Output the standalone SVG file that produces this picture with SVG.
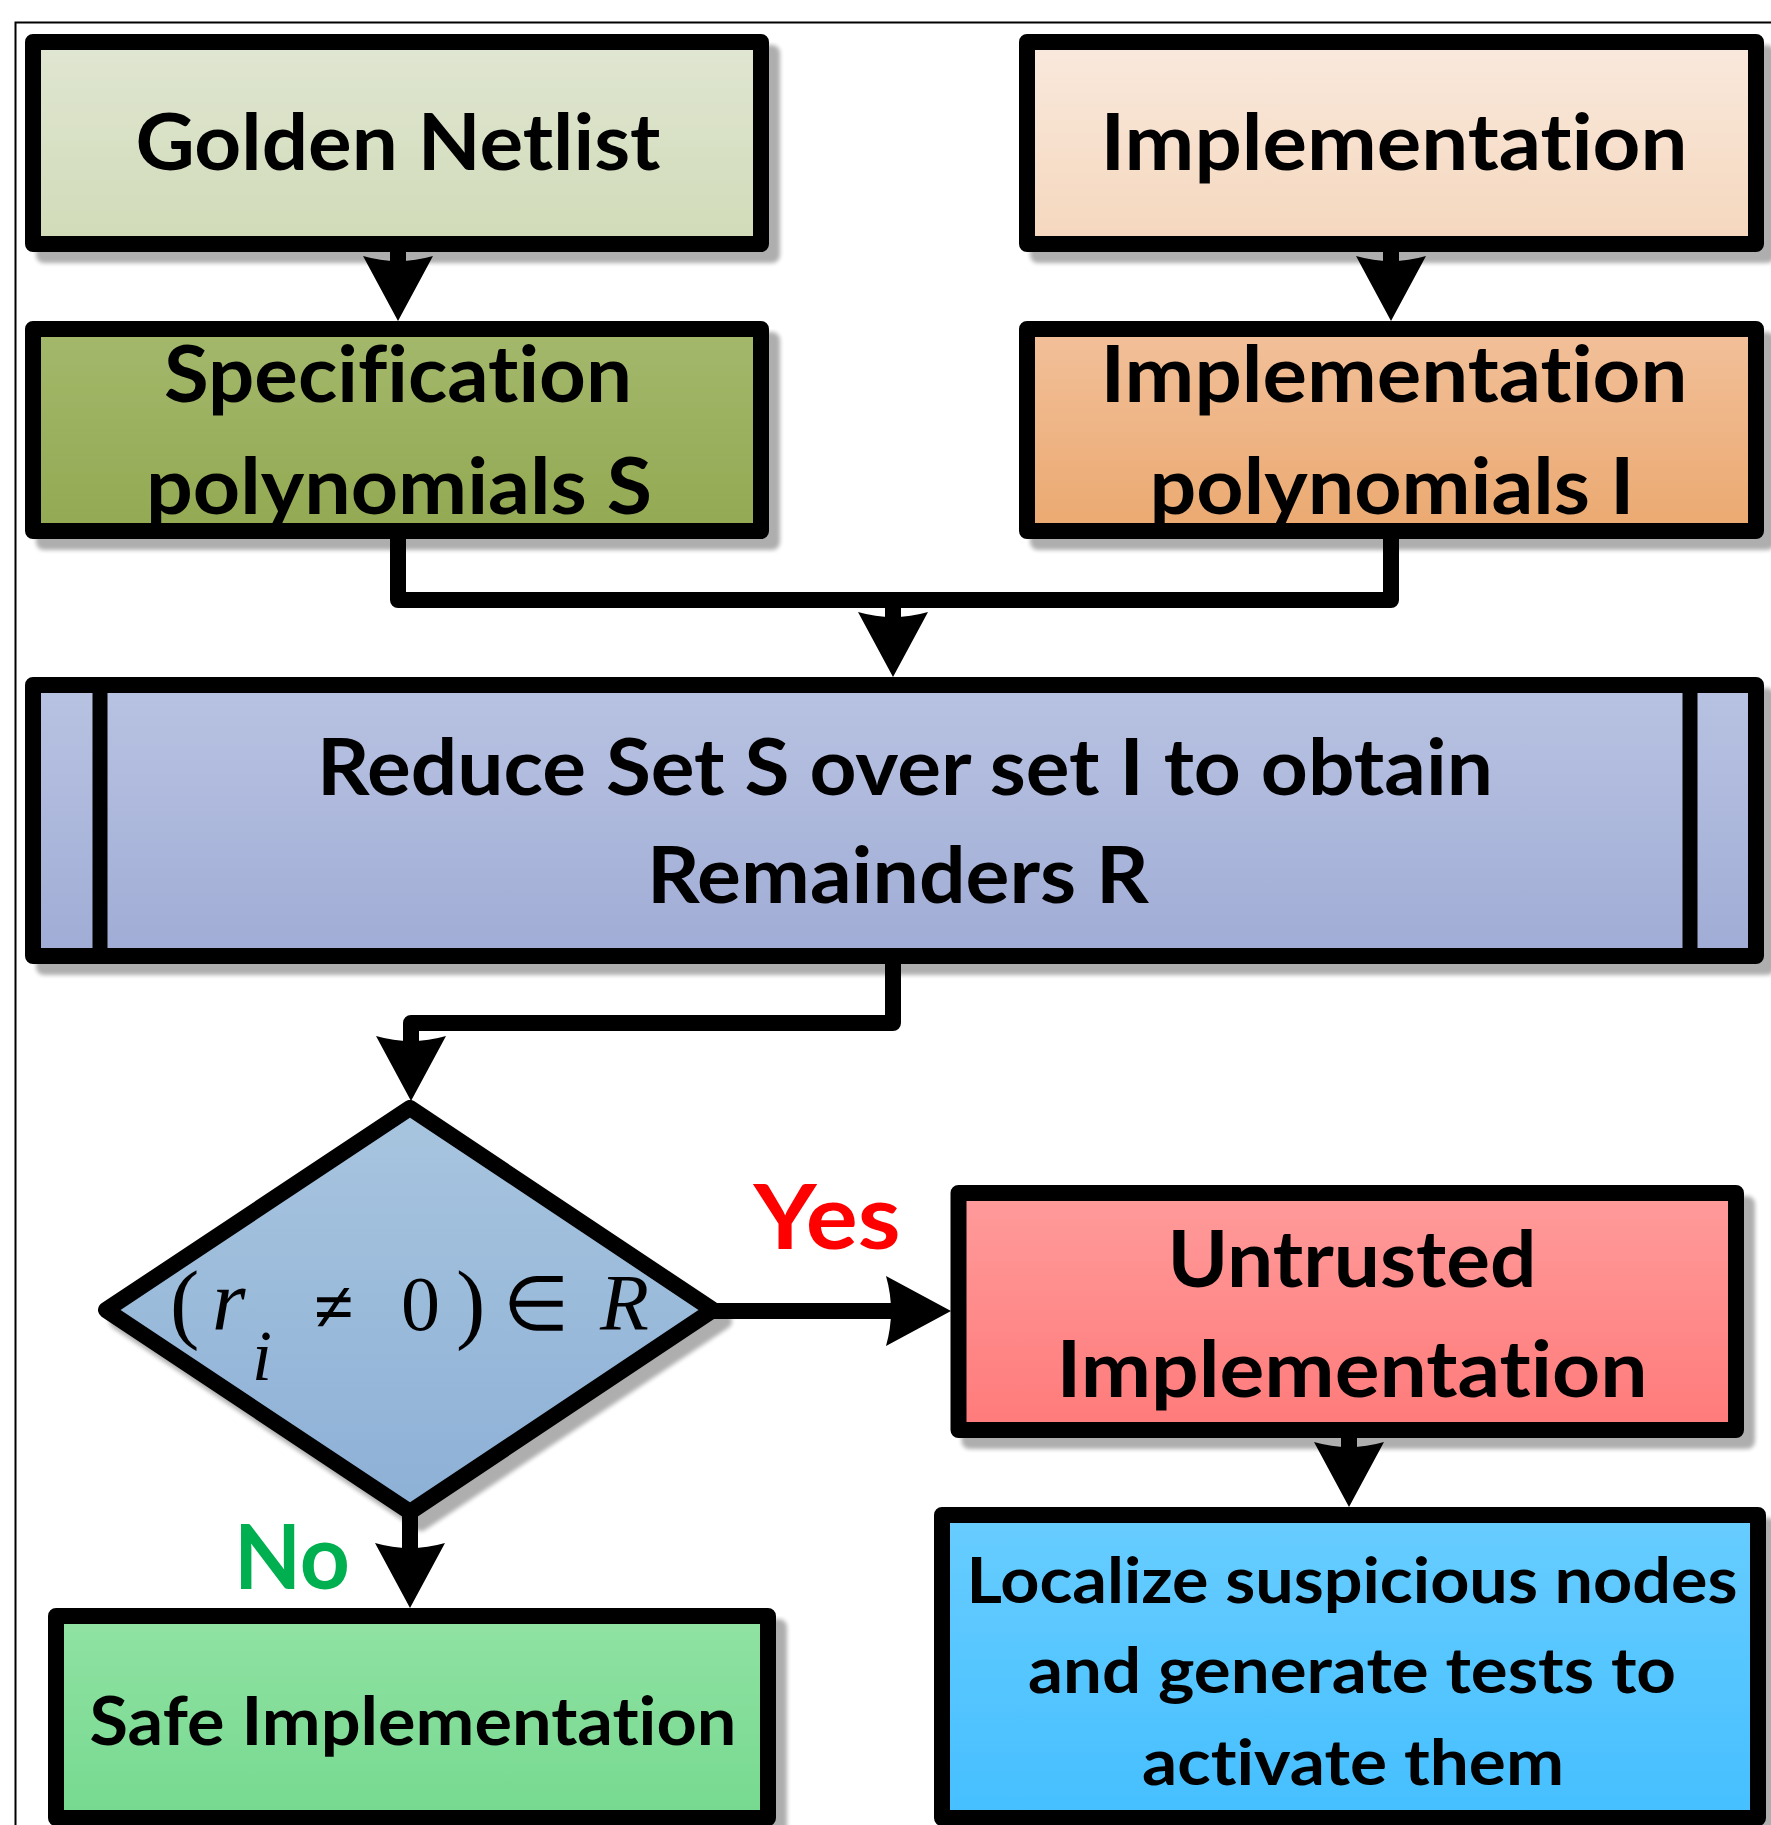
<svg xmlns="http://www.w3.org/2000/svg" width="1771" height="1825" viewBox="0 0 1771 1825">
  <style>
    .box { stroke: #000; stroke-width: 16; stroke-linejoin: round; }
    .lbl { font-family: Lato, "Open Sans", sans-serif; font-weight: 700; fill: #000; text-anchor: middle; font-variant-ligatures: none; font-feature-settings: "liga" 0, "clig" 0; }
    .big { font-size: 78px; }
    .mid { font-size: 67px; }
    .sm { font-size: 64px; }
    .tag { font-family: Lato, "Open Sans", sans-serif; font-weight: 700; font-size: 89px; text-anchor: middle; }
    .math { font-family: "Liberation Serif", "Times New Roman", serif; fill: #000; }
    .wire { fill: none; stroke: #000; stroke-width: 16; stroke-linejoin: round; }
  </style>
  <defs>
    <marker id="head" markerUnits="userSpaceOnUse" markerWidth="72" markerHeight="72" viewBox="0 0 72 72" refX="30" refY="36" orient="auto">
      <path d="M70,36 L5,1 Q15,36 5,71 Z" fill="#000"/>
    </marker>
    <filter id="shadow" x="-5%" y="-5%" width="115%" height="120%">
      <feGaussianBlur in="SourceAlpha" stdDeviation="2"/>
      <feOffset dx="11" dy="11" result="off"/>
      <feComponentTransfer><feFuncA type="linear" slope="0.32"/></feComponentTransfer>
      <feMerge><feMergeNode/><feMergeNode in="SourceGraphic"/></feMerge>
    </filter>
    <linearGradient id="gGolden" x1="0" y1="0" x2="0" y2="1"><stop offset="0" stop-color="#e0e6d2"/><stop offset="1" stop-color="#d1dbb8"/></linearGradient>
    <linearGradient id="gImpl" x1="0" y1="0" x2="0" y2="1"><stop offset="0" stop-color="#f9e9dd"/><stop offset="1" stop-color="#f5d7bd"/></linearGradient>
    <linearGradient id="gSpec" x1="0" y1="0" x2="0" y2="1"><stop offset="0" stop-color="#a4b86c"/><stop offset="1" stop-color="#93a952"/></linearGradient>
    <linearGradient id="gImplPoly" x1="0" y1="0" x2="0" y2="1"><stop offset="0" stop-color="#f2c09a"/><stop offset="1" stop-color="#eba970"/></linearGradient>
    <linearGradient id="gReduce" x1="0" y1="0" x2="0" y2="1"><stop offset="0" stop-color="#b8c3e2"/><stop offset="1" stop-color="#a1acd6"/></linearGradient>
    <linearGradient id="gDiamond" x1="0" y1="0" x2="0" y2="1"><stop offset="0" stop-color="#a8c5df"/><stop offset="1" stop-color="#8db0d6"/></linearGradient>
    <linearGradient id="gUntrusted" x1="0" y1="0" x2="0" y2="1"><stop offset="0" stop-color="#ff9b9b"/><stop offset="1" stop-color="#ff7a7a"/></linearGradient>
    <linearGradient id="gSafe" x1="0" y1="0" x2="0" y2="1"><stop offset="0" stop-color="#90e2a3"/><stop offset="1" stop-color="#76d98f"/></linearGradient>
    <linearGradient id="gLocal" x1="0" y1="0" x2="0" y2="1"><stop offset="0" stop-color="#68cdff"/><stop offset="1" stop-color="#45bfff"/></linearGradient>
  </defs>

  <rect width="1771" height="1825" fill="#fff"/>

  <!-- page frame -->
  <path d="M15.5,1825 V22.5 H1771" fill="none" stroke="#000" stroke-width="2"/>

  <!-- connectors -->
  <g id="connectors">
    <path class="wire" d="M398,244 V281" marker-end="url(#head)"/>
    <path class="wire" d="M1391,244 V281" marker-end="url(#head)"/>
    <path class="wire" d="M398,531 V600 H1391 V531"/>
    <path class="wire" d="M893,600 V637" marker-end="url(#head)"/>
    <path class="wire" d="M893,956 V1023 H411 V1061" marker-end="url(#head)"/>
    <path class="wire" d="M713,1311 H911" marker-end="url(#head)"/>
    <path class="wire" d="M410,1512 V1568" marker-end="url(#head)"/>
    <path class="wire" d="M1349,1430 V1467" marker-end="url(#head)"/>
  </g>

  <!-- edge labels -->
  <text class="tag" x="827" y="1249" fill="#ff0000" textLength="147" lengthAdjust="spacingAndGlyphs">Yes</text>
  <text class="tag" x="292" y="1589" fill="#00b050" textLength="116" lengthAdjust="spacingAndGlyphs">No</text>

  <g id="golden-netlist">
    <rect class="box" x="33" y="42" width="728" height="202" fill="url(#gGolden)" filter="url(#shadow)"/>
    <text class="lbl big" x="398" y="170" textLength="525" lengthAdjust="spacingAndGlyphs">Golden Netlist</text>
  </g>

  <g id="implementation">
    <rect class="box" x="1027" y="42" width="729" height="202" fill="url(#gImpl)" filter="url(#shadow)"/>
    <text class="lbl big" x="1394" y="170" textLength="587" lengthAdjust="spacingAndGlyphs">Implementation</text>
  </g>

  <g id="spec-polynomials">
    <rect class="box" x="33" y="329" width="728" height="202" fill="url(#gSpec)" filter="url(#shadow)"/>
    <text class="lbl big" x="398" y="402" textLength="468" lengthAdjust="spacingAndGlyphs">Specification</text>
    <text class="lbl big" x="399" y="514" textLength="506" lengthAdjust="spacingAndGlyphs">polynomials S</text>
  </g>

  <g id="impl-polynomials">
    <rect class="box" x="1027" y="329" width="729" height="202" fill="url(#gImplPoly)" filter="url(#shadow)"/>
    <text class="lbl big" x="1394" y="402" textLength="587" lengthAdjust="spacingAndGlyphs">Implementation</text>
    <text class="lbl big" x="1392" y="514" textLength="485" lengthAdjust="spacingAndGlyphs">polynomials I</text>
  </g>

  <g id="reduce">
    <rect class="box" x="33" y="685" width="1723" height="271" fill="url(#gReduce)" filter="url(#shadow)"/>
    <path d="M100,685 V956 M1690,685 V956" stroke="#000" stroke-width="15"/>
    <text class="lbl big" x="905" y="795" textLength="1176" lengthAdjust="spacingAndGlyphs">Reduce Set S over set I to obtain</text>
    <text class="lbl big" x="898" y="903" textLength="502" lengthAdjust="spacingAndGlyphs">Remainders R</text>
  </g>

  <g id="decision">
    <polygon class="box" points="410,1108 713,1310 410,1512 106,1310" fill="url(#gDiamond)" filter="url(#shadow)"/>
    <text class="math" y="1330">
      <tspan x="170" y="1332" font-size="88">(</tspan>
      <tspan x="212" y="1330" font-size="86" font-style="italic">r</tspan>
      <tspan x="252" y="1380" font-size="72" font-style="italic">i</tspan>
      <tspan x="314" y="1331" font-size="72" font-weight="700">≠</tspan>
      <tspan x="401" y="1330" font-size="78">0</tspan>
      <tspan x="456" y="1332" font-size="88">)</tspan>
      <tspan x="503" y="1330" font-size="76">∈</tspan>
      <tspan x="600" y="1330" font-size="80" font-style="italic">R</tspan>
    </text>
  </g>

  <g id="untrusted">
    <rect class="box" x="958.5" y="1193" width="777.5" height="237" fill="url(#gUntrusted)" filter="url(#shadow)"/>
    <text class="lbl big" x="1352" y="1287" textLength="369" lengthAdjust="spacingAndGlyphs">Untrusted</text>
    <text class="lbl big" x="1352" y="1397" textLength="591" lengthAdjust="spacingAndGlyphs">Implementation</text>
  </g>

  <g id="safe">
    <rect class="box" x="56" y="1616" width="712" height="202" fill="url(#gSafe)" filter="url(#shadow)"/>
    <text class="lbl mid" x="413" y="1745" textLength="647" lengthAdjust="spacingAndGlyphs">Safe Implementation</text>
  </g>

  <g id="localize">
    <rect class="box" x="942" y="1515" width="816" height="303" fill="url(#gLocal)" filter="url(#shadow)"/>
    <text class="lbl sm" x="1352" y="1603" textLength="771" lengthAdjust="spacingAndGlyphs">Localize suspicious nodes</text>
    <text class="lbl sm" x="1352" y="1693" textLength="648" lengthAdjust="spacingAndGlyphs">and generate tests to</text>
    <text class="lbl sm" x="1353" y="1785" textLength="422" lengthAdjust="spacingAndGlyphs">activate them</text>
  </g>
</svg>
